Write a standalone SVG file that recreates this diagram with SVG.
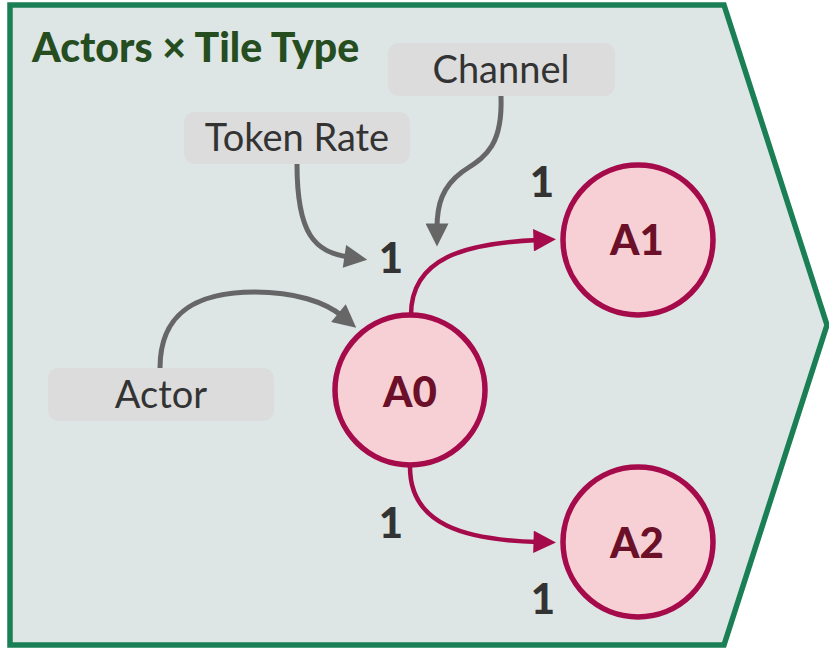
<svg xmlns="http://www.w3.org/2000/svg" width="829" height="649" viewBox="0 0 829 649">
<style>
.lbl{font-family:Lato,"Noto Sans",sans-serif;font-size:38px;fill:#333333;text-anchor:middle}
.box{fill:#dcdcdc}
.num{font-family:Lato,"Noto Sans",sans-serif;font-size:42px;font-weight:900;fill:#333333;text-anchor:middle}
.act circle{fill:#f7d0d6;stroke:#a50a4a;stroke-width:5.5}
.act text{font-family:Lato,"Noto Sans",sans-serif;font-size:42px;font-weight:900;fill:#6b1028;text-anchor:middle}
.g{fill:none;stroke:#666666;stroke-width:5;marker-end:url(#ga)}
.r{fill:none;stroke:#a50a4a;stroke-width:4.5;marker-end:url(#ra)}
</style>
<defs>
<marker id="ga" viewBox="0 0 10 10" refX="2" refY="5" markerWidth="5.2" markerHeight="4.6" orient="auto" markerUnits="strokeWidth">
<path d="M0,0 L10,5 L0,10 Z" fill="#666666"/>
</marker>
<marker id="ra" viewBox="0 0 10 10" refX="2" refY="5" markerWidth="5.2" markerHeight="5" orient="auto" markerUnits="strokeWidth">
<path d="M0,0 L10,5 L0,10 Z" fill="#a50a4a"/>
</marker>
</defs>
<g id="frame">
<polygon points="10,5 724,5 827,325 724,645 10,645" fill="#dde6e5" stroke="#1a7f55" stroke-width="5.5"/>
<text x="32" y="62" font-family="Lato,'Noto Sans',sans-serif" font-size="41" font-weight="900" fill="#264d1f">Actors × Tile Type</text>
</g>
<g id="connectors">
<path class="g" d="M297,164 C297,235 315,252 349,257"/>
<path class="g" d="M501,96 C503,150 482,158 462,172 C442,187 437,205 437,228"/>
<path class="g" d="M160,368 C160,310 200,292 255,292 C295,292 325,302 342,316"/>
<path class="r" d="M411,315 C411,258 465,243 538,240"/>
<path class="r" d="M410,467 C410,525 465,540 538,542"/>
</g>
<g id="label-channel">
<rect class="box" x="388" y="43" width="227" height="53" rx="11"/>
<text class="lbl" x="501" y="83">Channel</text>
</g>
<g id="label-token-rate">
<rect class="box" x="184" y="112" width="226" height="52" rx="11"/>
<text class="lbl" x="297" y="151">Token Rate</text>
</g>
<g id="label-actor">
<rect class="box" x="48" y="368" width="226" height="53" rx="11"/>
<text class="lbl" x="161" y="408">Actor</text>
</g>
<g id="A0" class="act">
<circle cx="410" cy="390" r="75"/>
<text x="410" y="407">A0</text>
</g>
<g id="A1" class="act">
<circle cx="638" cy="240" r="75"/>
<text x="637" y="255">A1</text>
</g>
<g id="A2" class="act">
<circle cx="638" cy="542" r="75"/>
<text x="637" y="558">A2</text>
</g>
<g id="rates">
<text class="num" x="542" y="197">1</text>
<text class="num" x="391" y="273">1</text>
<text class="num" x="391" y="538">1</text>
<text class="num" x="543" y="614">1</text>
</g>
</svg>
